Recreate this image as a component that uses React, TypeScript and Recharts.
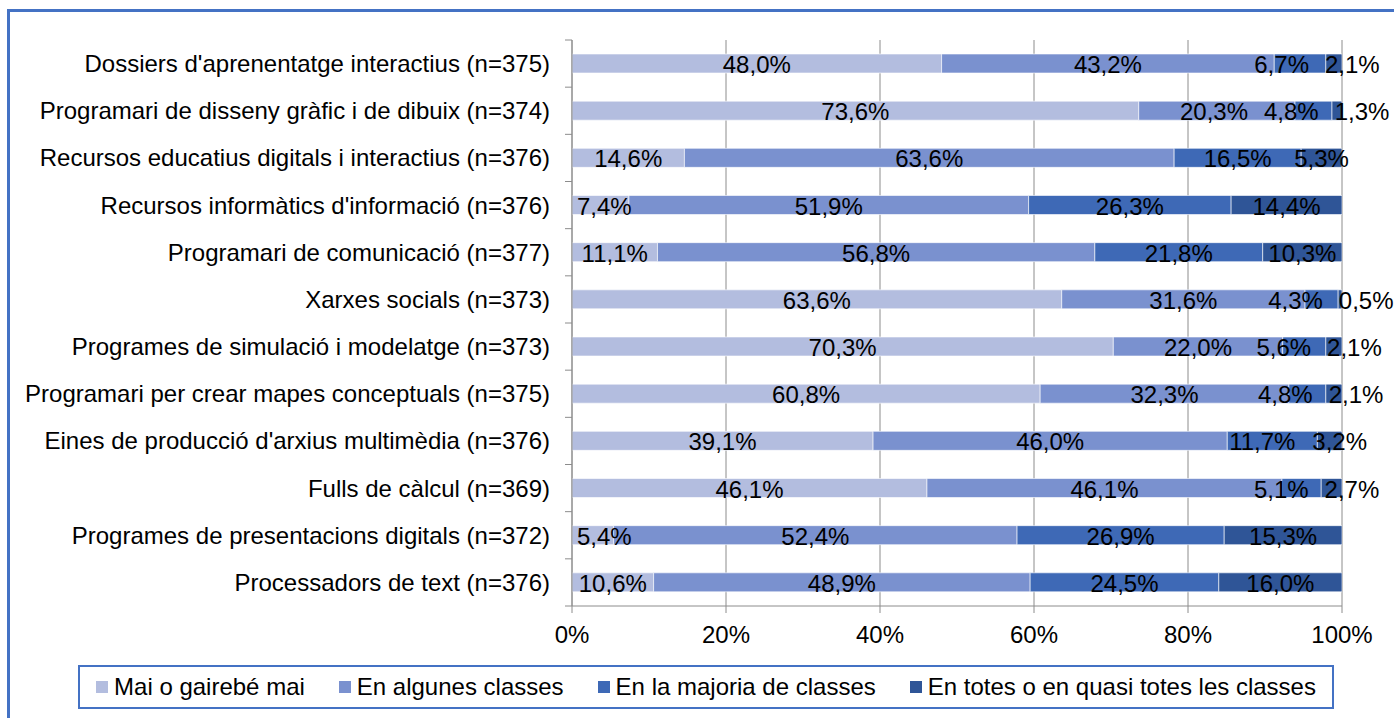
import {Bar, BarChart, CartesianGrid, LabelList, Legend, XAxis, YAxis} from "recharts"

const categories = [
    "Dossiers d'aprenentatge interactius (n=375)",
    "Programari de disseny gràfic i de dibuix (n=374)",
    "Recursos educatius digitals i interactius (n=376)",
    "Recursos informàtics d'informació (n=376)",
    "Programari de comunicació (n=377)",
    "Xarxes socials (n=373)",
    "Programes de simulació i modelatge (n=373)",
    "Programari per crear mapes conceptuals (n=375)",
    "Eines de producció d'arxius multimèdia (n=376)",
    "Fulls de càlcul (n=369)",
    "Programes de presentacions digitals (n=372)",
    "Processadors de text (n=376)",
]

const maiValues = [48.0, 73.6, 14.6, 7.4, 11.1, 63.6, 70.3, 60.8, 39.1, 46.1, 5.4, 10.6]
const algunesValues = [43.2, 20.3, 63.6, 51.9, 56.8, 31.6, 22.0, 32.3, 46.0, 46.1, 52.4, 48.9]
const majoriaValues = [6.7, 4.8, 16.5, 26.3, 21.8, 4.3, 5.6, 4.8, 11.7, 5.1, 26.9, 24.5]
const totesValues = [2.1, 1.3, 5.3, 14.4, 10.3, 0.5, 2.1, 2.1, 3.2, 2.7, 15.3, 16.0]

const seriesNames = [
    "Mai o gairebé mai",
    "En algunes classes",
    "En la majoria de classes",
    "En totes o en quasi totes les classes",
]
const xTicks = [0, 20, 40, 60, 80, 100]

const seriesValues = [maiValues, algunesValues, majoriaValues, totesValues]
const colors = ["#B3BDDF", "#7A91CF", "#3E69B6", "#2F5597"]
const keys = ["mai", "algunes", "majoria", "totes"]

const chartData = categories.map((name, i) => ({
    name,
    mai: maiValues[i],
    algunes: algunesValues[i],
    majoria: majoriaValues[i],
    totes: totesValues[i],
}))

const FONT = "'Liberation Sans', Arial, sans-serif"
const FS = 24
const MARGIN = {top: 40, right: 52, bottom: 72, left: 0}
const HEIGHT = 718
const X_AXIS_H = 40
const PLOT_TOP = MARGIN.top
const PLOT_BOTTOM = HEIGHT - MARGIN.bottom - X_AXIS_H
const BAND = (PLOT_BOTTOM - PLOT_TOP) / categories.length
const GAP = 16

const fmt = (v: number) => v.toFixed(1).replace(".", ",") + "%"

// rough Arial widths, used to push overlapping labels apart
function textWidth(s: string) {
    let w = 0
    for (const ch of s) w += ch === "," ? 0.278 : ch === "%" ? 0.889 : 0.556
    return w * FS
}

function layoutRow(vals: number[], x0: number, ppu: number) {
    let cum = 0
    const items = vals.map(v => {
        const c = x0 + (cum + v / 2) * ppu
        cum += v
        return {c, w: textWidth(fmt(v))}
    })
    for (let it = 0; it < 20; it++) {
        // keep first label inside the plot
        const first = items[0]
        if (first.c - first.w / 2 < x0 + 5) first.c = x0 + 5 + first.w / 2
        for (let i = 0; i < items.length - 1; i++) {
            const a = items[i], b = items[i + 1]
            const need = (a.w + b.w) / 2 + GAP
            const d = b.c - a.c
            if (d < need) {
                const push = (need - d) / 2
                a.c -= push
                b.c += push
            }
        }
    }
    return items.map(it => it.c)
}

function makeLabel(k: number) {
    return (props: any) => {
        const vb = props.viewBox && props.viewBox.width !== undefined ? props.viewBox : props
        const {x, y, width, height} = vb
        const index = props.index
        if (index === undefined || x === undefined) return null
        const vals = seriesValues.map(s => s[index])
        const before = vals.slice(0, k).reduce((a, b) => a + b, 0)
        const ppu = width / vals[k]
        const x0 = x - before * ppu
        const centers = layoutRow(vals, x0, ppu)
        return (
            <text
                x={centers[k]}
                y={y + height / 2 + 1}
                textAnchor="middle"
                dominantBaseline="central"
                fontFamily={FONT}
                fontSize={FS}
                fill="#000"
            >
                {fmt(vals[k])}
            </text>
        )
    }
}

const CategoryTick = (props: any) => {
    const {x, y, payload, index} = props
    const axisX = x + 22
    return (
        <g>
            <text x={x} y={y} textAnchor="end" dominantBaseline="central" fontFamily={FONT} fontSize={FS} fill="#000">
                {payload.value}
            </text>
            <line x1={axisX - 7} x2={axisX} y1={y - BAND / 2} y2={y - BAND / 2} stroke="#8c8c8c"/>
            {index === categories.length - 1 &&
                <line x1={axisX - 7} x2={axisX} y1={y + BAND / 2} y2={y + BAND / 2} stroke="#8c8c8c"/>}
        </g>
    )
}

const renderLegend = () => (
    <div style={{
        boxSizing: "border-box",
        width: 1256,
        height: 44,
        border: "2px solid #4472C4",
        display: "flex",
        justifyContent: "center",
        alignItems: "center",
        gap: 34,
        fontFamily: FONT,
        fontSize: FS,
        color: "#000",
        background: "#fff",
    }}>
        {seriesNames.map((n, i) => (
            <span key={n} style={{display: "flex", alignItems: "center"}}>
                <span style={{display: "inline-block", width: 12, height: 12, background: colors[i], marginRight: 6}}/>
                {n}
            </span>
        ))}
    </div>
)

export default function App() {
    return (
        <div style={{position: "absolute", left: 0, top: 0, width: 1394, height: 718, background: "#fff"}}>
            <div style={{
                position: "absolute",
                left: 7,
                top: 9,
                width: 1387,
                height: 709,
                boxSizing: "border-box",
                borderTop: "3px solid #4472C4",
                borderLeft: "3px solid #4472C4",
            }}/>
            <div style={{position: "absolute", left: 0, top: 0}}>
                <BarChart
                    width={1394}
                    height={HEIGHT}
                    data={chartData}
                    layout="vertical"
                    margin={MARGIN}
                    barSize={19}
                >
                    <CartesianGrid horizontal={false} stroke="#8c8c8c"/>
                    <XAxis
                        type="number"
                        domain={[0, 100]}
                        ticks={xTicks}
                        tickFormatter={(v) => `${v}%`}
                        height={X_AXIS_H}
                        stroke="#8c8c8c"
                        tickSize={7}
                        tickMargin={13}
                        tick={{fill: "#000", fontSize: FS, fontFamily: FONT}}
                        allowDataOverflow
                    />
                    <YAxis
                        type="category"
                        dataKey="name"
                        width={572}
                        stroke="#8c8c8c"
                        tickLine={false}
                        tickSize={7}
                        tickMargin={15}
                        interval={0}
                        tick={<CategoryTick/>}
                    />
                    <Legend
                        layout="horizontal"
                        verticalAlign="middle"
                        align="center"
                        content={renderLegend}
                        wrapperStyle={{position: "absolute", left: 78, top: 665, width: 1256, height: 44}}
                    />
                    {keys.map((key, k) => (
                        <Bar
                            key={key}
                            dataKey={key}
                            name={seriesNames[k]}
                            stackId="a"
                            fill={colors[k]}
                            stroke="#ffffff"
                            strokeWidth={0.6}
                            isAnimationActive={false}
                        >
                            <LabelList dataKey={key} content={makeLabel(k)}/>
                        </Bar>
                    ))}
                </BarChart>
            </div>
        </div>
    )
}
